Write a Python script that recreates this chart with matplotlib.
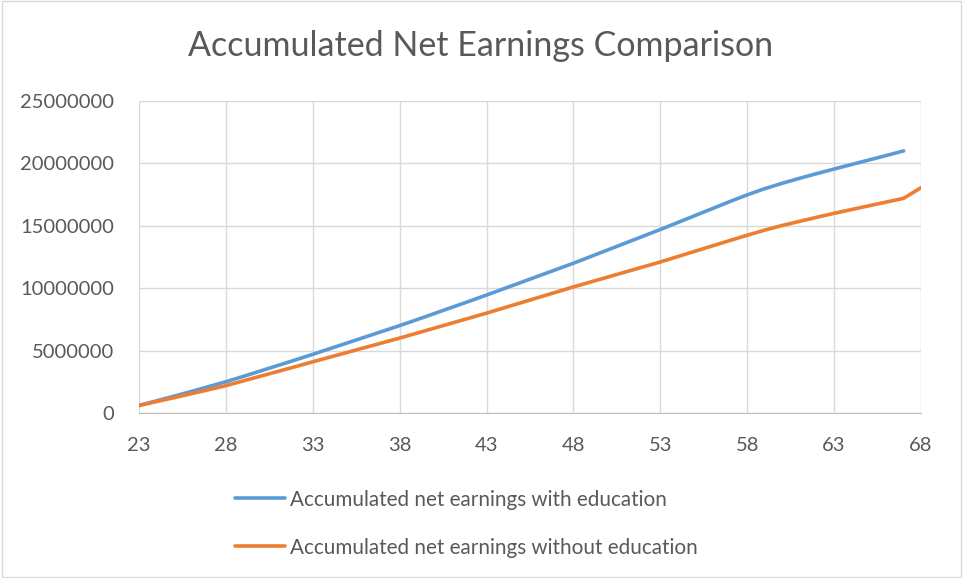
import matplotlib.pyplot as plt
from matplotlib.patches import Rectangle

plt.rcParams["font.family"] = ["Lato", "DejaVu Sans"]

ages = list(range(23, 69))
with_education = [
    0.60, 0.97, 1.34, 1.72, 2.11, 2.50, 2.93, 3.37, 3.81, 4.25,
    4.70, 5.16, 5.62, 6.08, 6.54, 7.00, 7.48, 7.97, 8.46, 8.95,
    9.45, 9.96, 10.47, 10.98, 11.49, 12.00, 12.54, 13.08, 13.62, 14.16,
    14.70, 15.26, 15.82, 16.38, 16.94, 17.48, 17.97, 18.40, 18.80, 19.18,
    19.55, 19.91, 20.27, 20.63, 21.00,
]
without_education = [
    0.60, 0.91, 1.22, 1.54, 1.86, 2.19, 2.57, 2.95, 3.33, 3.71,
    4.10, 4.48, 4.86, 5.24, 5.62, 6.00, 6.40, 6.80, 7.20, 7.60,
    8.00, 8.42, 8.84, 9.26, 9.68, 10.10, 10.50, 10.90, 11.30, 11.70,
    12.10, 12.53, 12.96, 13.39, 13.82, 14.24, 14.65, 15.02, 15.35, 15.68,
    16.00, 16.30, 16.60, 16.90, 17.20, 18.05,
]
x_ticks = [23, 28, 33, 38, 43, 48, 53, 58, 63, 68]
y_ticks = [0, 5000000, 10000000, 15000000, 20000000, 25000000]

TEXT = "#595959"
GRID = "#d9d9d9"

fig = plt.figure(figsize=(9.63, 5.78), dpi=100)
ax = fig.add_axes([0.1443, 0.2855, 0.8121, 0.5398])

ax.plot(ages[:len(with_education)], [v * 1e6 for v in with_education],
        color="#5b9bd5", linewidth=2.6, solid_capstyle="round", solid_joinstyle="round",
        label="Accumulated net earnings with education")
ax.plot(ages[:len(without_education)], [v * 1e6 for v in without_education],
        color="#ed7d31", linewidth=2.6, solid_capstyle="round", solid_joinstyle="round",
        label="Accumulated net earnings without education")

ax.set_xlim(23, 68)
ax.set_ylim(0, 25000000)
ax.set_xticks(x_ticks)
ax.set_yticks(y_ticks)
ax.set_yticklabels([str(v) for v in y_ticks])
ax.grid(True, color=GRID, linewidth=1)
ax.set_axisbelow(True)
for side in ["top", "right", "left"]:
    ax.spines[side].set_visible(False)
ax.spines["bottom"].set_color("#bfbfbf")
ax.tick_params(length=0, labelsize=14.5, colors=TEXT)
ax.tick_params(axis="x", pad=17)
ax.tick_params(axis="y", pad=18)

fig.text(0.4995, 0.92, "Accumulated Net Earnings Comparison", ha="center", va="center",
         fontsize=24.5, color=TEXT)

fig.legend(loc="upper left", bbox_to_anchor=(0.244, 0.153), frameon=False,
           fontsize=14.9, labelcolor=TEXT, handlelength=2.4, handletextpad=0.25,
           labelspacing=1.35, borderaxespad=0, borderpad=0)

fig.add_artist(Rectangle((0.002, 0.002), 0.996, 0.996, transform=fig.transFigure,
                         fill=False, edgecolor="#d9d9d9", linewidth=1))

fig.savefig("out.png", dpi=100, facecolor="white")
